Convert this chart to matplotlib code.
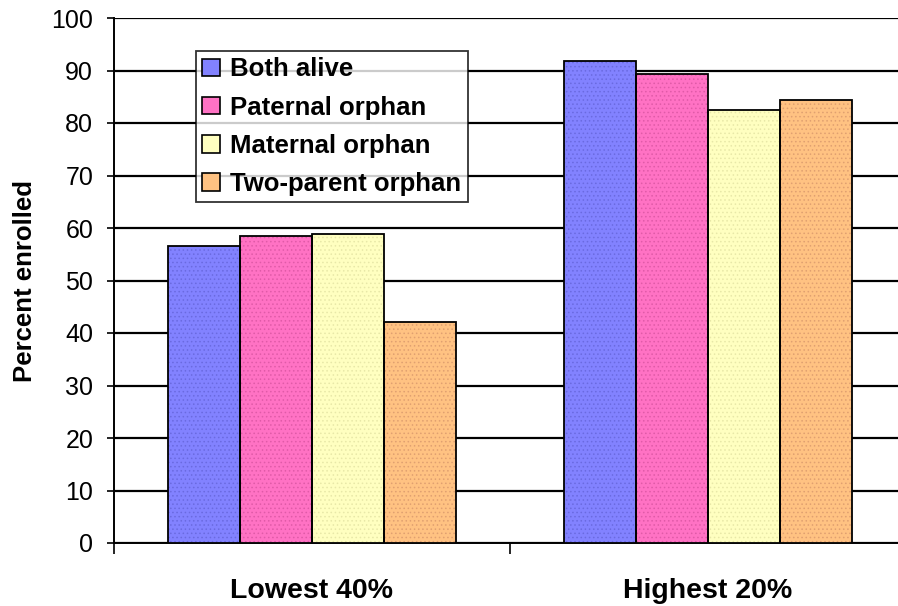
import matplotlib
matplotlib.use("Agg")
import matplotlib.pyplot as plt
import numpy as np

plt.rcParams['font.family'] = ['Liberation Sans', 'DejaVu Sans']
plt.rcParams['hatch.linewidth'] = 0.6

groups = ['Lowest 40%', 'Highest 20%']
series = ['Both alive', 'Paternal orphan', 'Maternal orphan', 'Two-parent orphan']
both_alive = [56.6, 91.8]
paternal = [58.5, 89.3]
maternal = [58.9, 82.5]
two_parent = [42.1, 84.4]
colors = ['#8282ff', '#ff72c4', '#ffffc0', '#ffc282']
dots = ['#6a6ae0', '#e05aa8', '#e8e8a8', '#e0a070']
yticks = list(range(0, 101, 10))

fig = plt.figure(figsize=(8.98, 6.06), dpi=100)
W, H = 898, 606
ax = fig.add_axes([114 / W, (H - 543) / H, 792 / W, 525 / H])

x = np.arange(len(groups))
width = 0.182
values = [both_alive, paternal, maternal, two_parent]
for i, (name, vals, c, d) in enumerate(zip(series, values, colors, dots)):
    pos = x + (i - 1.5) * width
    ax.bar(pos, vals, width, color=c, edgecolor='none', linewidth=0,
           label=name, zorder=3)
    # dithered look of the original
    ax.bar(pos, vals, width, color='none', edgecolor=d, hatch='....',
           linewidth=0, zorder=3.5)
    ax.bar(pos, vals, width, color='none', edgecolor='black',
           linewidth=1.3, zorder=4)

ax.set_xlim(-0.5, 1.5)
ax.set_ylim(0, 100)
ax.set_yticks(yticks)
ax.yaxis.grid(True, color='black', linewidth=1.6, zorder=0)
ax.set_axisbelow(True)

ax.set_xticks([-0.5, 0.5, 1.5])
ax.set_xticklabels([])
ax.set_xticks(x, minor=True)
ax.set_xticklabels(groups, minor=True, fontsize=20.5, fontweight='bold')
ax.tick_params(axis='x', which='minor', length=0, pad=25)
ax.tick_params(axis='x', which='major', length=8, width=1.2, direction='out')
ax.tick_params(axis='y', length=5, width=1.2, labelsize=18, pad=10)

for s in ['top', 'right']:
    ax.spines[s].set_visible(False)
ax.spines['left'].set_linewidth(1.4)
ax.spines['bottom'].set_linewidth(1.4)

ax.set_ylabel('Percent enrolled', fontsize=18.5, fontweight='bold')
ax.yaxis.set_label_coords(-(114 - 37) / 792, 0.5)

handles, labels = ax.get_legend_handles_labels()
leg = ax.legend(handles[:4], labels[:4], loc='upper left',
                bbox_to_anchor=(0.1035, 0.937), frameon=True,
                fancybox=False, edgecolor='black', fontsize=18.5,
                handlelength=0.68, handleheight=0.68, handletextpad=0.4,
                labelspacing=0.55, borderpad=0.25, borderaxespad=0)
leg.get_frame().set_linewidth(1.3)
for t in leg.get_texts():
    t.set_fontweight('bold')
for p in leg.get_patches():
    p.set_edgecolor('black')
    p.set_linewidth(1.2)
leg.set_zorder(5)

fig.savefig('out.png', dpi=100)
